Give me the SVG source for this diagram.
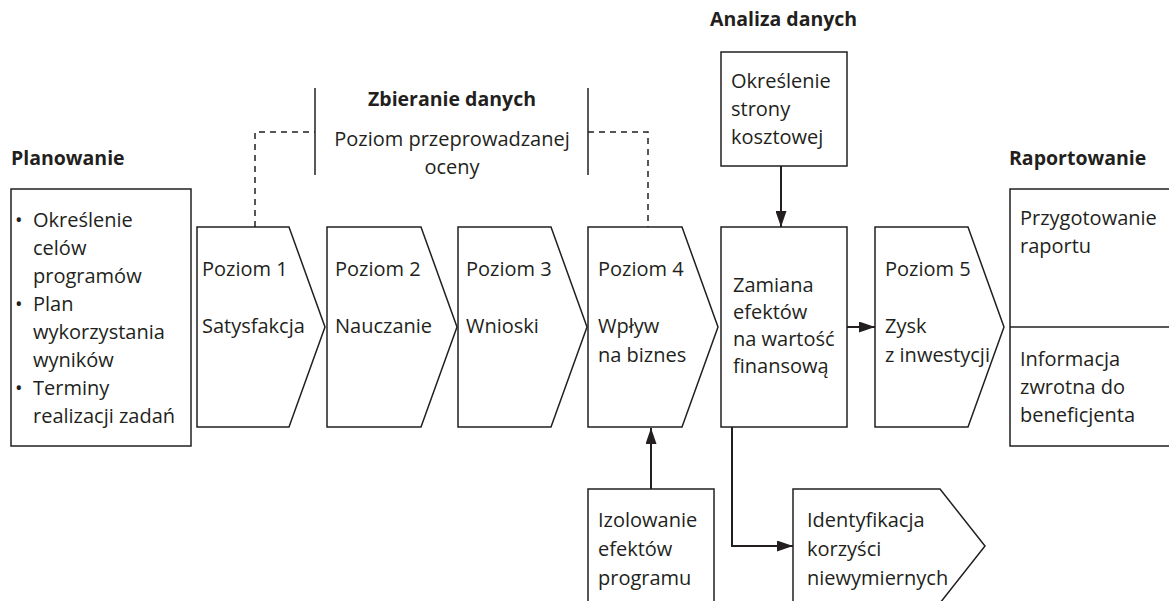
<svg xmlns="http://www.w3.org/2000/svg" width="1169" height="601" viewBox="0 0 1169 601">
<style>
.s{fill:#fff;stroke:#231f20;stroke-width:1.5}
.t{font-family:"Open Sans","Noto Sans",sans-serif;font-size:20px;fill:#231f20}
.h{font-family:"Open Sans","Noto Sans",sans-serif;font-size:19.5px;font-weight:bold;fill:#231f20}
.c{fill:none;stroke:#231f20;stroke-width:2}
.d{fill:none;stroke:#231f20;stroke-width:1.5;stroke-dasharray:6 5}
.l{fill:none;stroke:#231f20;stroke-width:1.5}
</style>
<defs>
<marker id="a" markerUnits="userSpaceOnUse" markerWidth="16" markerHeight="11" refX="16" refY="5.5" orient="auto">
<path d="M0,0 L16,5.5 L0,11 z" fill="#231f20"/>
</marker>
</defs>
<rect width="1169" height="601" fill="#fff"/>

<g id="headings">
<text class="h" x="11" y="165">Planowanie</text>
<text class="h" x="452" y="106" text-anchor="middle">Zbieranie danych</text>
<text class="h" x="710" y="26">Analiza danych</text>
<text class="h" x="1009" y="165">Raportowanie</text>
</g>

<g id="zbieranie">
<line class="l" x1="315" y1="88" x2="315" y2="175"/>
<line class="l" x1="588" y1="88" x2="588" y2="175"/>
<text class="t" x="452" y="146" text-anchor="middle">Poziom przeprowadzanej</text>
<text class="t" x="452" y="174" text-anchor="middle">oceny</text>
</g>

<g id="connectors">
<path class="d" d="M255,227 V132 H315"/>
<path class="d" d="M588,132 H648 V227"/>
<line class="c" x1="781" y1="166" x2="781" y2="227" marker-end="url(#a)"/>
<line class="c" x1="847" y1="327" x2="875" y2="327" marker-end="url(#a)"/>
<line class="c" x1="651" y1="489" x2="651" y2="428" marker-end="url(#a)"/>
<path class="c" d="M732,427 V546 H793" marker-end="url(#a)"/>
</g>

<g id="planowanie">
<rect class="s" x="11" y="189" width="180" height="257"/>
<text class="t" x="15" y="227">•</text>
<text class="t" x="33" y="227">Określenie</text>
<text class="t" x="33" y="255">celów</text>
<text class="t" x="33" y="283">programów</text>
<text class="t" x="15" y="311">•</text>
<text class="t" x="33" y="311">Plan</text>
<text class="t" x="33" y="339">wykorzystania</text>
<text class="t" x="33" y="367">wyników</text>
<text class="t" x="15" y="395">•</text>
<text class="t" x="33" y="395">Terminy</text>
<text class="t" x="33" y="423">realizacji zadań</text>
</g>

<g id="poziom1">
<path class="s" d="M197,227 H289 L325,327 L289,427 H197 Z"/>
<text class="t" x="202" y="276">Poziom 1</text>
<text class="t" x="202" y="333">Satysfakcja</text>
</g>

<g id="poziom2">
<path class="s" d="M327,227 H421 L457,327 L421,427 H327 Z"/>
<text class="t" x="335" y="276">Poziom 2</text>
<text class="t" x="335" y="333">Nauczanie</text>
</g>

<g id="poziom3">
<path class="s" d="M458,227 H551 L587,327 L551,427 H458 Z"/>
<text class="t" x="466" y="276">Poziom 3</text>
<text class="t" x="466" y="333">Wnioski</text>
</g>

<g id="poziom4">
<path class="s" d="M588,227 H682 L718,327 L682,427 H588 Z"/>
<text class="t" x="598" y="276">Poziom 4</text>
<text class="t" x="598" y="333">Wpływ</text>
<text class="t" x="598" y="362">na biznes</text>
</g>

<g id="koszty">
<rect class="s" x="721" y="52" width="126" height="114"/>
<text class="t" x="731" y="88">Określenie</text>
<text class="t" x="731" y="116">strony</text>
<text class="t" x="731" y="144">kosztowej</text>
</g>

<g id="zamiana">
<rect class="s" x="721" y="227" width="126" height="200"/>
<text class="t" x="733" y="292">Zamiana</text>
<text class="t" x="733" y="319">efektów</text>
<text class="t" x="733" y="346">na wartość</text>
<text class="t" x="733" y="373">finansową</text>
</g>

<g id="poziom5">
<path class="s" d="M875,227 H968 L1004,327 L968,427 H875 Z"/>
<text class="t" x="885" y="276">Poziom 5</text>
<text class="t" x="885" y="333">Zysk</text>
<text class="t" x="885" y="362">z inwestycji</text>
</g>

<g id="raportowanie">
<path class="l" d="M1172,189 H1010 V446 H1172"/>
<line class="l" x1="1010" y1="327" x2="1172" y2="327"/>
<text class="t" x="1020" y="225">Przygotowanie</text>
<text class="t" x="1020" y="253">raportu</text>
<text class="t" x="1020" y="366">Informacja</text>
<text class="t" x="1020" y="394">zwrotna do</text>
<text class="t" x="1020" y="422">beneficjenta</text>
</g>

<g id="izolowanie">
<rect class="s" x="588" y="489" width="126" height="130"/>
<text class="t" x="598" y="527">Izolowanie</text>
<text class="t" x="598" y="556">efektów</text>
<text class="t" x="598" y="585">programu</text>
</g>

<g id="identyfikacja">
<path class="s" d="M793,489 H940 L985,546 L940,603 H793 Z"/>
<text class="t" x="807" y="527">Identyfikacja</text>
<text class="t" x="807" y="556">korzyści</text>
<text class="t" x="807" y="585">niewymiernych</text>
</g>
</svg>
